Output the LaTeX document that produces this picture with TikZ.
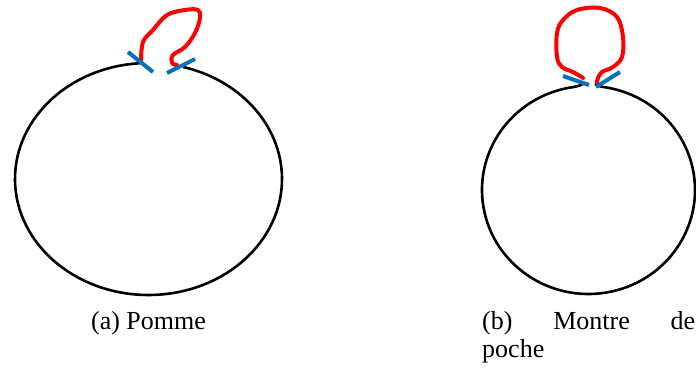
\documentclass[tikz,border=0pt]{standalone}
\usepackage{fontspec}
\setmainfont{Liberation Serif}
\begin{document}
\begin{tikzpicture}[x=1pt,y=1pt,
  outline/.style={draw=black, line width=2.6pt, line join=round},
  stem/.style={draw={rgb,255:red,0;green,114;blue,189}, line width=4pt},
  loopline/.style={draw=red, line width=4pt, line join=round, line cap=round},
  caption/.style={font=\fontsize{26}{28}\selectfont, inner sep=0pt}]
\useasboundingbox (0,0) rectangle (696,369);
% ---- (a) Pomme ----
\coordinate (ac) at (148.5,190);
\draw[outline] ([shift={(93.6:133.5 and 116)}]ac) arc[start angle=93.6, end angle=435, x radius=133.5, y radius=116];
\draw[loopline] plot[smooth, tension=0.6] coordinates {(141,307) (143,327) (153,339) (167,354) (185,359) (198,359) (200,351) (195,336) (185,322) (173,314) (172,306) (177,304)};
\coordinate (al1) at (128,317); \coordinate (al2) at (153,297);
\coordinate (ar1) at (167,296); \coordinate (ar2) at (195,310);
\draw[stem] (al1) -- (al2);
\draw[stem] (ar1) -- (ar2);
\node[caption, anchor=base] (capa) at (148.5,39) {(a) Pomme};
% ---- (b) Montre de poche ----
\coordinate (bc) at (588.5,179);
\coordinate (bls) at ([shift={(100:106.5 and 104)}]bc);
\coordinate (brs) at ([shift={(80:106.5 and 104)}]bc);
\draw[outline] (583,285) .. controls (579,283) and (575,282) .. (bls)
  arc[start angle=100, end angle=440, x radius=106.5, y radius=104]
  .. controls (602,282) and (598,283) .. (595,285);
\draw[loopline] plot[smooth, tension=0.6] coordinates {(583,291) (573,297) (562,302) (557,312) (557,336) (563,349) (577,359) (600,361) (617,352) (623,332) (622,312) (613,302) (602,297) (598,291) (597,287)};
\coordinate (bl1) at (563,293); \coordinate (bl2) at (589,284);
\coordinate (br1) at (596,282); \coordinate (br2) at (620,297);
\draw[stem] (bl1) -- (bl2);
\draw[stem] (br1) -- (br2);
\node[caption, anchor=base west, text width=213pt, align=left] (capb) at (482,39) {\hbox to 213pt{(b)\hspace{\fill}Montre\hspace{\fill}de}\\poche};
\end{tikzpicture}
\end{document}
